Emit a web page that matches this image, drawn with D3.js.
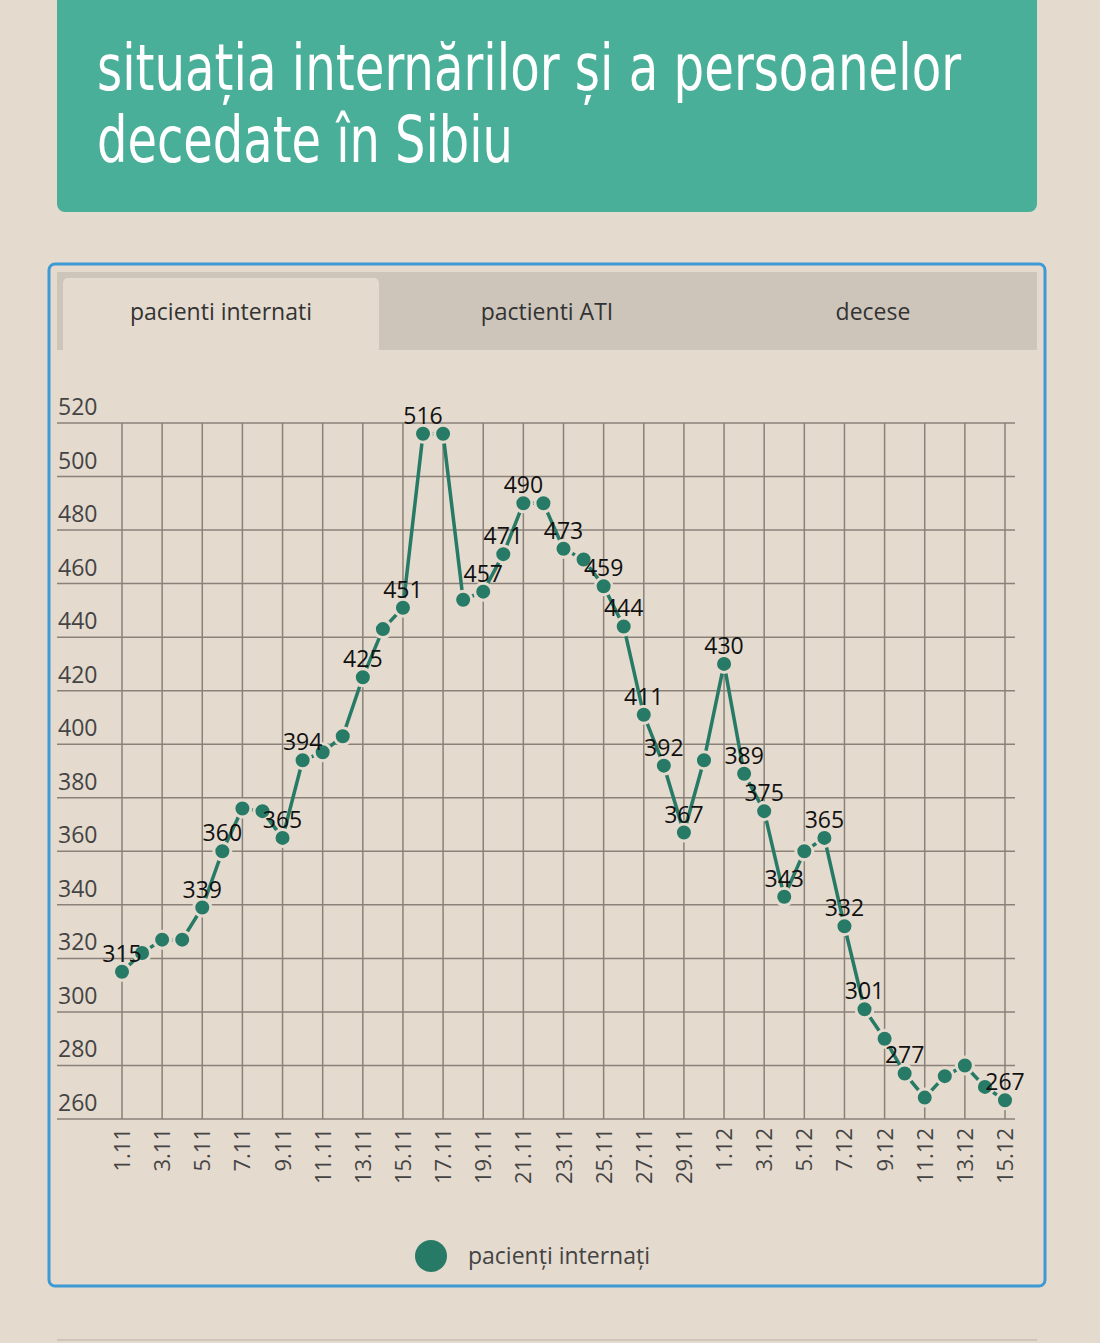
<!DOCTYPE html>
<html><head><meta charset="utf-8">
<script src="https://cdn.jsdelivr.net/npm/d3@7"></script>
<style>
body{margin:0;background:#e4dace;}
svg{display:block;}
</style></head>
<body><svg id="chart" width="1100" height="1343"></svg>
<script>
let dates = ["1.11","2.11","3.11","4.11","5.11","6.11","7.11","8.11","9.11","10.11","11.11","12.11","13.11","14.11","15.11","16.11","17.11","18.11","19.11","20.11","21.11","22.11","23.11","24.11","25.11","26.11","27.11","28.11","29.11","30.11","1.12","2.12","3.12","4.12","5.12","6.12","7.12","8.12","9.12","10.12","11.12","12.12","13.12","14.12","15.12"];
let values = [315,322,327,327,339,360,376,375,365,394,397,403,425,443,451,516,516,454,457,471,490,490,473,469,459,444,411,392,367,394,430,389,375,343,360,365,332,301,290,277,268,276,280,272,267];
let labelled = [0,4,5,8,9,12,14,15,18,19,20,22,24,25,26,27,28,30,31,32,33,35,36,37,39,44];
let yTicks = [260,280,300,320,340,360,380,400,420,440,460,480,500,520];
let tabs = ["pacienti internati","pactienti ATI","decese"];

let svg = d3.select("#chart");
let green = "#267a66";

// title box
svg.append("rect").attr("x",57).attr("y",-10).attr("width",980).attr("height",222).attr("rx",8).attr("fill","#4aaf98");
let title = svg.append("text").attr("fill","#fff")
	.style("font-family","'Liberation Sans Narrow','DejaVu Sans Condensed',sans-serif").style("font-size","64px");
title.append("tspan").attr("x",97).attr("y",90).attr("textLength",864).attr("lengthAdjust","spacingAndGlyphs")
	.text("situația internărilor și a persoanelor");
title.append("tspan").attr("x",97).attr("y",162).attr("textLength",416).attr("lengthAdjust","spacingAndGlyphs")
	.text("decedate în Sibiu");

// panel
svg.append("rect").attr("x",49).attr("y",264).attr("width",996).attr("height",1022).attr("rx",6)
	.attr("fill","none").attr("stroke","#3d9ad4").attr("stroke-width",3);
svg.append("rect").attr("x",57).attr("y",272).attr("width",980).attr("height",78).attr("fill","#cdc5ba");
svg.append("rect").attr("x",63).attr("y",278).attr("width",316).attr("height",76).attr("rx",5).attr("fill","#e4dace");
let tabX = [221,547,873];
svg.selectAll(".tab").data(tabs).join("text")
	.attr("x",(d,i)=>tabX[i]).attr("y",320).attr("text-anchor","middle")
	.attr("fill","#333").style("font-family","'Open Sans',sans-serif").style("font-size","23px")
	.text(d=>d);

let x = d3.scalePoint().domain(dates).range([122,1005]);
let y = d3.scaleLinear().domain([260,520]).range([1119,423]);

let g = svg.append("g");
// horizontal grid + labels
g.selectAll(".hl").data(yTicks).join("line")
	.attr("x1",57).attr("x2",1015).attr("y1",d=>y(d)).attr("y2",d=>y(d))
	.attr("stroke","#8a8178").attr("stroke-width",1.5);
g.selectAll(".yl").data(yTicks).join("text")
	.attr("x",58).attr("y",d=>y(d)-8)
	.attr("fill","#444").style("font-family","'Open Sans',sans-serif").style("font-size","23px")
	.text(d=>d);
// vertical grid every 2 days
let xTicks = dates.filter((d,i)=>i%2==0);
g.selectAll(".vl").data(xTicks).join("line")
	.attr("x1",d=>x(d)).attr("x2",d=>x(d)).attr("y1",423).attr("y2",1119)
	.attr("stroke","#8a8178").attr("stroke-width",1.5);
g.selectAll(".xl").data(xTicks).join("text")
	.attr("transform",d=>`translate(${x(d)+8},1128) rotate(-90)`)
	.attr("text-anchor","end")
	.attr("fill","#444").style("font-family","'Open Sans',sans-serif").style("font-size","22px")
	.text(d=>d);

// line
let pts = dates.map((d,i)=>({d:d,v:values[i],i:i}));
g.append("path").datum(pts)
	.attr("d",d3.line().x(p=>x(p.d)).y(p=>y(p.v)))
	.attr("fill","none").attr("stroke",green).attr("stroke-width",3.5);
g.selectAll(".pt").data(pts).join("circle")
	.attr("cx",p=>x(p.d)).attr("cy",p=>y(p.v)).attr("r",8.5)
	.attr("fill",green).attr("stroke","#e4dace").attr("stroke-width",3);
g.selectAll(".vlab").data(pts.filter(p=>labelled.includes(p.i))).join("text")
	.attr("x",p=>x(p.d)).attr("y",p=>y(p.v)-10).attr("text-anchor","middle")
	.attr("fill","#111").style("font-family","'Open Sans',sans-serif").style("font-size","23px")
	.text(p=>p.v);

// legend
svg.append("circle").attr("cx",431).attr("cy",1256).attr("r",16).attr("fill",green);
svg.append("text").attr("x",468).attr("y",1264).attr("fill","#444")
	.style("font-family","'Open Sans',sans-serif").style("font-size","23px").text("pacienți internați");
svg.append("line").attr("x1",57).attr("x2",1037).attr("y1",1340).attr("y2",1340).attr("stroke","#cfc6ba").attr("stroke-width",2);
</script></body></html>
